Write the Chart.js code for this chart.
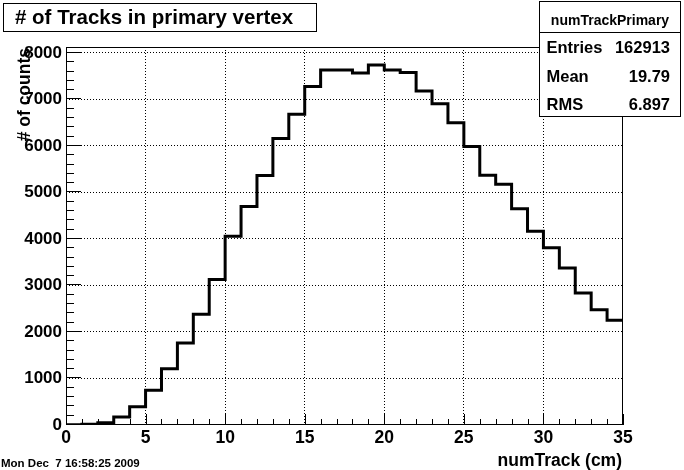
<!DOCTYPE html>
<html><head><meta charset="utf-8">
<script src="https://cdn.jsdelivr.net/npm/chart.js@4.4.0/dist/chart.umd.min.js"></script>
<style>html,body{margin:0;padding:0;background:#fff;}#wrap{width:684px;height:470px;position:relative;}canvas{display:block;}</style>
</head><body><div id="wrap"><canvas id="c" width="684" height="470"></canvas></div>
<script>
// ---- data ----
const binEdges = [0,1,2,3,4,5,6,7,8,9,10,11,12,13,14,15,16,17,18,19,20,21,22,23,24,25,26,27,28,29,30,31,32,33,34,35];
const counts = [5,15,50,170,390,745,1210,1765,2380,3130,4060,4700,5365,6160,6680,7280,7630,7630,7570,7740,7630,7580,7180,6905,6500,5990,5370,5175,4650,4165,3810,3375,2840,2480,2250];
const xTickLabels = [0,5,10,15,20,25,30,35];
const yTickLabels = [0,1000,2000,3000,4000,5000,6000,7000,8000];
const yMax = 8127;
const titleText = "# of Tracks in primary vertex";
const xTitle = "numTrack (cm)";
const yTitle = "# of counts";
const statsName = "numTrackPrimary";
const statsLabels = ["Entries","Mean","RMS"];
const statsValues = ["162913","19.79","6.897"];
const dateText = "Mon Dec  7 16:58:25 2009";

const FONT = "'Liberation Sans', Arial, Helvetica, sans-serif";
const histData = binEdges.map((e,i)=>({x:e, y:counts[Math.min(i, counts.length-1)]}));

const decor = {
  id:'decor',
  afterDraw(chart){
    const ctx = chart.ctx, a = chart.chartArea;
    const xs = chart.scales.x, ys = chart.scales.y;
    ctx.save();
    ctx.strokeStyle = '#000'; ctx.lineWidth = 1;
    // frame
    ctx.strokeRect(Math.round(a.left)+0.5, Math.round(a.top)+0.5, Math.round(a.right-a.left)-1, Math.round(a.bottom-a.top)-1);
    // y ticks
    ctx.beginPath();
    for (let v = 0; v <= yMax; v += 200) {
      const p = Math.round(ys.getPixelForValue(v)) - 0.5;
      const len = (v % 1000 === 0) ? 15 : 8;
      ctx.moveTo(a.left, p); ctx.lineTo(a.left + len, p);
    }
    // x ticks
    for (let v = 0; v <= 35; v += 1) {
      const p = Math.round(xs.getPixelForValue(v)) + 0.5;
      const len = (v % 5 === 0) ? 11 : 6;
      ctx.moveTo(p, a.bottom); ctx.lineTo(p, a.bottom - len);
    }
    ctx.stroke();
    // title box
    ctx.fillStyle = '#fff';
    ctx.fillRect(3.5, 3.5, 313, 28);
    ctx.strokeRect(3.5, 3.5, 313, 28);
    ctx.fillStyle = '#000';
    ctx.font = "bold 20.5px " + FONT;
    ctx.textAlign = 'left'; ctx.textBaseline = 'alphabetic';
    ctx.fillText(titleText, 15, 24);
    // stats box
    ctx.fillStyle = '#fff';
    ctx.fillRect(539.5, 1.5, 141, 115);
    ctx.strokeRect(539.5, 1.5, 141, 115);
    ctx.beginPath(); ctx.moveTo(539.5, 32.5); ctx.lineTo(680.5, 32.5); ctx.stroke();
    ctx.fillStyle = '#000';
    ctx.font = "bold 14px " + FONT;
    ctx.textAlign = 'center';
    ctx.fillText(statsName, 610, 25);
    ctx.font = "bold 16.5px " + FONT;
    const rowY = [53, 82, 110];
    statsLabels.forEach((l,i)=>{
      ctx.textAlign = 'left'; ctx.fillText(l, 546.5, rowY[i]);
      ctx.textAlign = 'right'; ctx.fillText(statsValues[i], 670, rowY[i]);
    });
    // axis titles
    ctx.font = "bold 17.5px " + FONT;
    ctx.textAlign = 'right';
    ctx.fillText(xTitle, 622, 466);
    ctx.save();
    ctx.translate(30, 48);
    ctx.rotate(-Math.PI/2);
    ctx.textAlign = 'right'; ctx.textBaseline = 'alphabetic';
    ctx.fillText(yTitle, 0, 0);
    ctx.restore();
    // date
    ctx.font = "bold 11.5px " + FONT;
    ctx.textAlign = 'left';
    ctx.fillText(dateText, 1, 467);
    ctx.restore();
  }
};

new Chart(document.getElementById('c'), {
  type: 'line',
  data: { datasets: [{
    data: histData,
    stepped: 'before',
    borderColor: '#000',
    borderWidth: 3,
    pointRadius: 0,
    fill: false,
    tension: 0
  }]},
  options: {
    responsive: false,
    animation: false,
    devicePixelRatio: 1,
    layout: { padding: { top: 47, right: 61, left: 0, bottom: 0 } },
    plugins: { legend: { display: false }, tooltip: { enabled: false }, title: { display: false } },
    scales: {
      x: {
        type: 'linear', min: 0, max: 35,
        afterFit(s){ s.height = 45; },
        afterBuildTicks(s){ s.ticks = xTickLabels.map(v=>({value:v})); },
        ticks: { stepSize: 5, maxRotation: 0, autoSkip: false, padding: 3, color: '#000',
                 callback: (v)=>String(v),
                 font: { family: FONT, size: 17.5, weight: 'bold' } },
        grid: { drawTicks: false, color: (c)=> (c.tick && (c.tick.value === 0 || c.tick.value === 35)) ? 'rgba(0,0,0,0)' : '#000', lineWidth: 1 },
        border: { display: false, dash: [1,2] }
      },
      y: {
        type: 'linear', min: 0, max: yMax,
        afterFit(s){ s.width = 66; },
        afterBuildTicks(s){ s.ticks = yTickLabels.map(v=>({value:v})); },
        ticks: { stepSize: 1000, includeBounds: false, padding: 4, color: '#000',
                 callback: (v)=>String(v),
                 font: { family: FONT, size: 17, weight: 'bold' } },
        grid: { drawTicks: false, color: (c)=> (c.tick && c.tick.value === 0) ? 'rgba(0,0,0,0)' : '#000', lineWidth: 1 },
        border: { display: false, dash: [1,2] }
      }
    }
  },
  plugins: [decor]
});
</script>
</body></html>
